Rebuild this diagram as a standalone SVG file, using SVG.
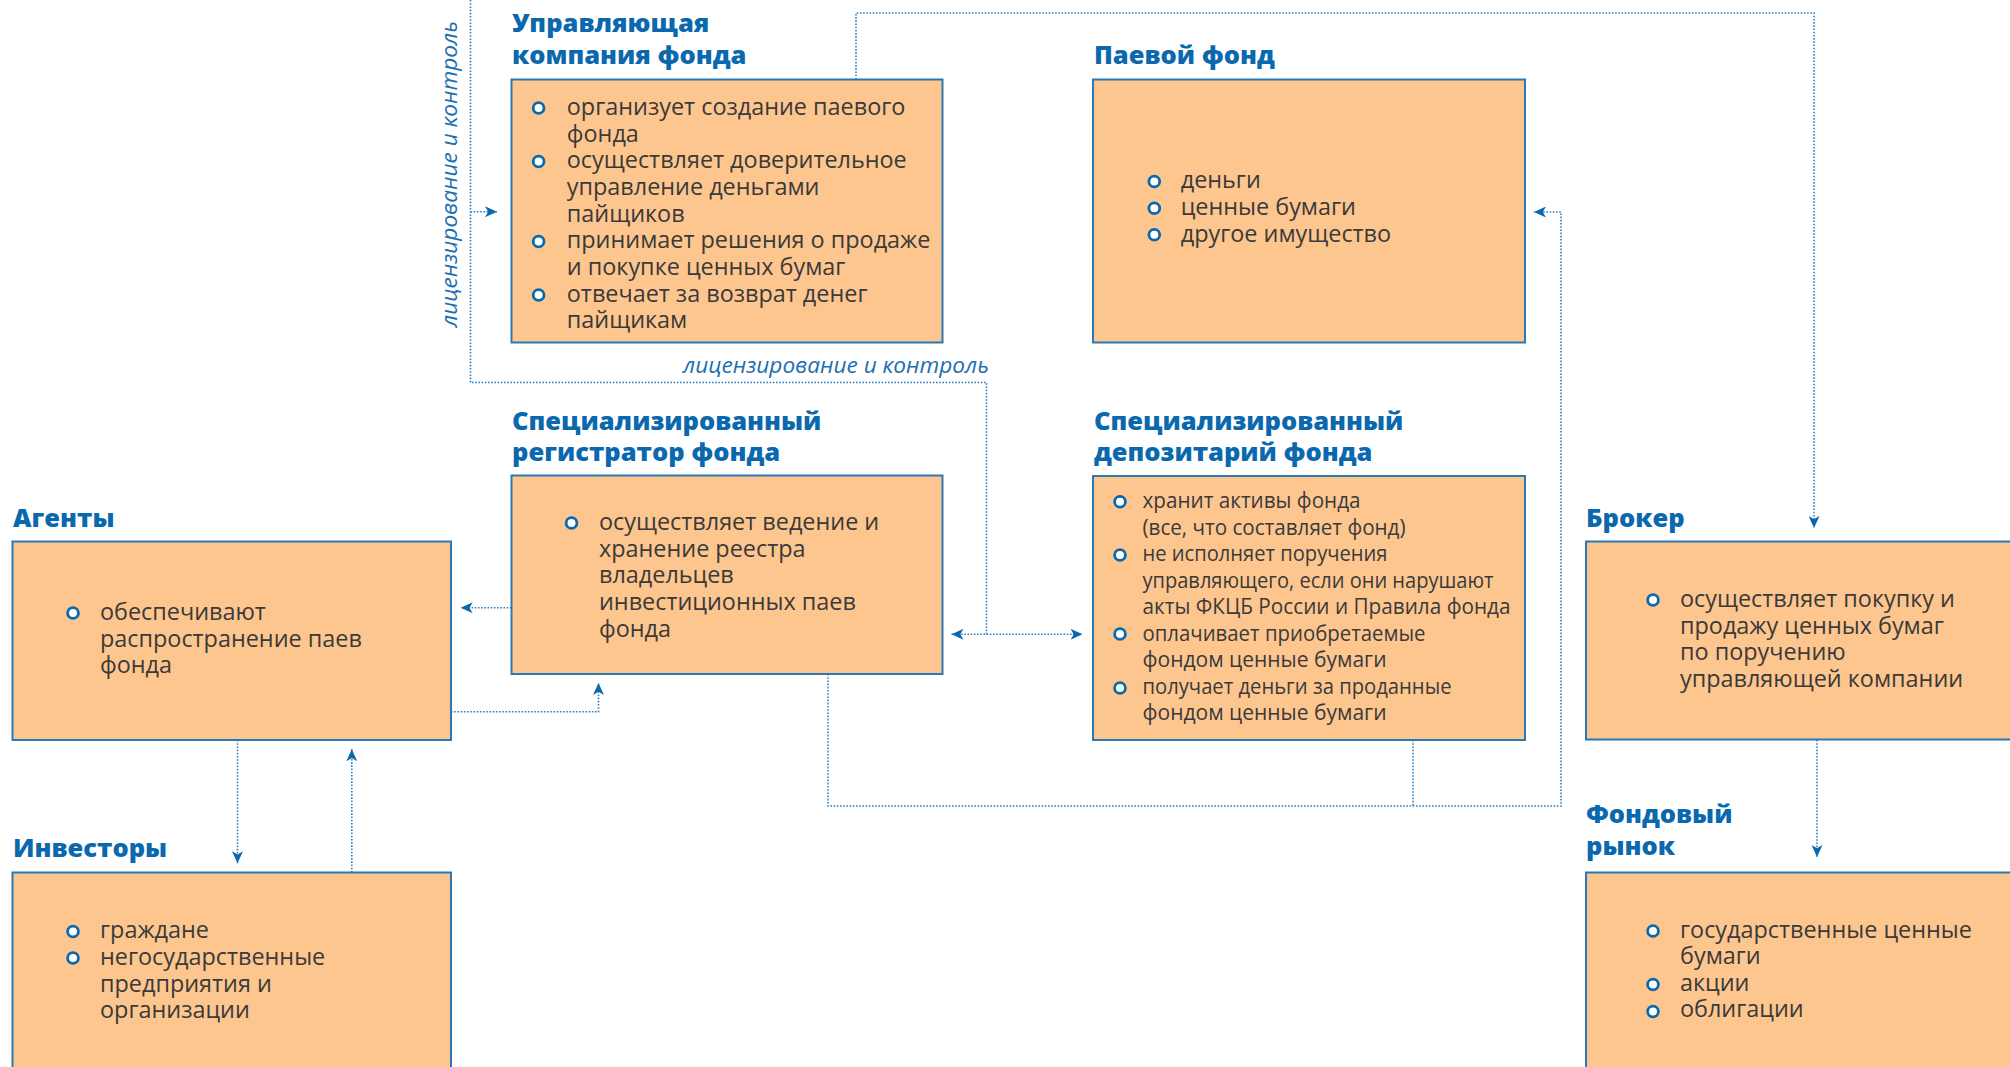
<svg xmlns="http://www.w3.org/2000/svg" width="2010" height="1067" viewBox="0 0 2010 1067">
<defs>
<style>
.box{fill:#FEC68F;stroke:#2A78B6;stroke-width:2}
.title{font-family:"Open Sans","Noto Sans",sans-serif;font-weight:800;font-size:25.5px;fill:#0A68AE}
.txt{font-family:"Open Sans","Noto Sans",sans-serif;font-size:23.4px;fill:#3A3A3A}
.cond{font-family:"Open Sans","Noto Sans",sans-serif;font-size:22px;fill:#3A3A3A}
.bul{fill:#FFFFFF;stroke:#0A68AE;stroke-width:2.8}
.lbl{font-family:"Open Sans","Noto Sans",sans-serif;font-style:italic;font-size:22.6px;fill:#1C6FB2}
.con{fill:none;stroke:#2E80C2;stroke-width:1.6;stroke-dasharray:1.6 1.6}
</style>
<marker id="ah" markerUnits="userSpaceOnUse" markerWidth="13" markerHeight="11" refX="12" refY="5.5" orient="auto-start-reverse">
<path d="M0,0 L12,5.5 L0,11 L3.2,5.5 z" fill="#0A68AE"/>
</marker>
</defs>
<rect width="2010" height="1067" fill="#FFFFFF"/>

<g id="connectors">
<path class="con" d="M470.5,0 V382.5 H986.5 V634.3"/>
<path class="con" d="M470.5,211.7 H497" marker-end="url(#ah)"/>
<path class="con" d="M951.5,634.3 H1082.5" marker-start="url(#ah)" marker-end="url(#ah)"/>
<path class="con" d="M856,79.5 V13 H1814 V528" marker-end="url(#ah)"/>
<path class="con" d="M828,674 V806 H1561 V212 H1534" marker-end="url(#ah)"/>
<path class="con" d="M1413,740 V806"/>
<path class="con" d="M511.5,607.7 H460.7" marker-end="url(#ah)"/>
<path class="con" d="M451,711.7 H598.5 V683" marker-end="url(#ah)"/>
<path class="con" d="M237.5,740 V863.3" marker-end="url(#ah)"/>
<path class="con" d="M351.8,872.5 V749.3" marker-end="url(#ah)"/>
<path class="con" d="M1817,740 V857" marker-end="url(#ah)"/>
<text class="lbl" x="683" y="373">лицензирование и контроль</text>
<text class="lbl" transform="translate(457,327) rotate(-90)" x="0" y="0">лицензирование и контроль</text>
</g>

<g id="upravl">
<text class="title" x="512" y="32">Управляющая</text>
<text class="title" x="512" y="63.5">компания фонда</text>
<rect class="box" x="511.5" y="79.5" width="431" height="263"/>
<circle class="bul" cx="538.6" cy="108" r="5.4"/>
<circle class="bul" cx="538.6" cy="161.5" r="5.4"/>
<circle class="bul" cx="538.6" cy="241.5" r="5.4"/>
<circle class="bul" cx="538.6" cy="295" r="5.4"/>
<text class="txt" x="566.8" y="115">организует создание паевого</text>
<text class="txt" x="566.8" y="141.7">фонда</text>
<text class="txt" x="566.8" y="168.3">осуществляет доверительное</text>
<text class="txt" x="566.8" y="195">управление деньгами</text>
<text class="txt" x="566.8" y="221.7">пайщиков</text>
<text class="txt" x="566.8" y="248.3">принимает решения о продаже</text>
<text class="txt" x="566.8" y="275">и покупке ценных бумаг</text>
<text class="txt" x="566.8" y="301.7">отвечает за возврат денег</text>
<text class="txt" x="566.8" y="328.3">пайщикам</text>
</g>

<g id="paevoy">
<text class="title" x="1094" y="63.5">Паевой фонд</text>
<rect class="box" x="1093" y="79.5" width="432" height="263"/>
<circle class="bul" cx="1154.3" cy="181.5" r="5.4"/>
<circle class="bul" cx="1154.3" cy="208.2" r="5.4"/>
<circle class="bul" cx="1154.3" cy="234.8" r="5.4"/>
<text class="txt" x="1180.7" y="188.3">деньги</text>
<text class="txt" x="1180.7" y="215">ценные бумаги</text>
<text class="txt" x="1180.7" y="241.7">другое имущество</text>
</g>

<g id="registrator">
<text class="title" x="512" y="429.5">Специализированный</text>
<text class="title" x="512" y="461">регистратор фонда</text>
<rect class="box" x="511.5" y="475.5" width="431" height="198.5"/>
<circle class="bul" cx="571.5" cy="523" r="5.4"/>
<text class="txt" x="599" y="530">осуществляет ведение и</text>
<text class="txt" x="599" y="556.7">хранение реестра</text>
<text class="txt" x="599" y="583.3">владельцев</text>
<text class="txt" x="599" y="610">инвестиционных паев</text>
<text class="txt" x="599" y="636.7">фонда</text>
</g>

<g id="depozitariy">
<text class="title" x="1094" y="429.5">Специализированный</text>
<text class="title" x="1094" y="461">депозитарий фонда</text>
<rect class="box" x="1093" y="476" width="432" height="264"/>
<circle class="bul" cx="1120" cy="501.7" r="5.4"/>
<circle class="bul" cx="1120" cy="555" r="5.4"/>
<circle class="bul" cx="1120" cy="634" r="5.4"/>
<circle class="bul" cx="1120" cy="688" r="5.4"/>
<text class="cond" x="1142.5" y="508.3" textLength="218" lengthAdjust="spacingAndGlyphs">хранит активы фонда</text>
<text class="cond" x="1142.5" y="534.8" textLength="263" lengthAdjust="spacingAndGlyphs">(все, что составляет фонд)</text>
<text class="cond" x="1142.5" y="561.3" textLength="245" lengthAdjust="spacingAndGlyphs">не исполняет поручения</text>
<text class="cond" x="1142.5" y="587.8" textLength="351" lengthAdjust="spacingAndGlyphs">управляющего, если они нарушают</text>
<text class="cond" x="1142.5" y="614.3" textLength="368" lengthAdjust="spacingAndGlyphs">акты ФКЦБ России и Правила фонда</text>
<text class="cond" x="1142.5" y="640.8" textLength="283" lengthAdjust="spacingAndGlyphs">оплачивает приобретаемые</text>
<text class="cond" x="1142.5" y="667.3" textLength="244" lengthAdjust="spacingAndGlyphs">фондом ценные бумаги</text>
<text class="cond" x="1142.5" y="693.8" textLength="309" lengthAdjust="spacingAndGlyphs">получает деньги за проданные</text>
<text class="cond" x="1142.5" y="720.3" textLength="244" lengthAdjust="spacingAndGlyphs">фондом ценные бумаги</text>
</g>

<g id="agenty">
<text class="title" x="13" y="527">Агенты</text>
<rect class="box" x="12.5" y="541.5" width="438.5" height="198.5"/>
<circle class="bul" cx="73" cy="613" r="5.4"/>
<text class="txt" x="100" y="620">обеспечивают</text>
<text class="txt" x="100" y="646.5">распространение паев</text>
<text class="txt" x="100" y="673">фонда</text>
</g>

<g id="investory">
<text class="title" x="13" y="857">Инвесторы</text>
<rect class="box" x="12.5" y="872.5" width="438.5" height="205"/>
<circle class="bul" cx="73" cy="931.5" r="5.4"/>
<circle class="bul" cx="73" cy="958" r="5.4"/>
<text class="txt" x="100" y="938.3">граждане</text>
<text class="txt" x="100" y="965">негосударственные</text>
<text class="txt" x="100" y="991.5">предприятия и</text>
<text class="txt" x="100" y="1018">организации</text>
</g>

<g id="broker">
<text class="title" x="1586" y="527">Брокер</text>
<rect class="box" x="1586" y="541.5" width="440" height="198"/>
<circle class="bul" cx="1653" cy="600" r="5.4"/>
<text class="txt" x="1680" y="607">осуществляет покупку и</text>
<text class="txt" x="1680" y="633.5">продажу ценных бумаг</text>
<text class="txt" x="1680" y="660">по поручению</text>
<text class="txt" x="1680" y="686.5">управляющей компании</text>
</g>

<g id="fondovy-rynok">
<text class="title" x="1586" y="823">Фондовый</text>
<text class="title" x="1586" y="855">рынок</text>
<rect class="box" x="1586" y="872.5" width="440" height="205"/>
<circle class="bul" cx="1653" cy="931" r="5.4"/>
<circle class="bul" cx="1653" cy="984.5" r="5.4"/>
<circle class="bul" cx="1653" cy="1011.5" r="5.4"/>
<text class="txt" x="1680" y="937.5">государственные ценные</text>
<text class="txt" x="1680" y="964">бумаги</text>
<text class="txt" x="1680" y="990.5">акции</text>
<text class="txt" x="1680" y="1017">облигации</text>
</g>
</svg>
